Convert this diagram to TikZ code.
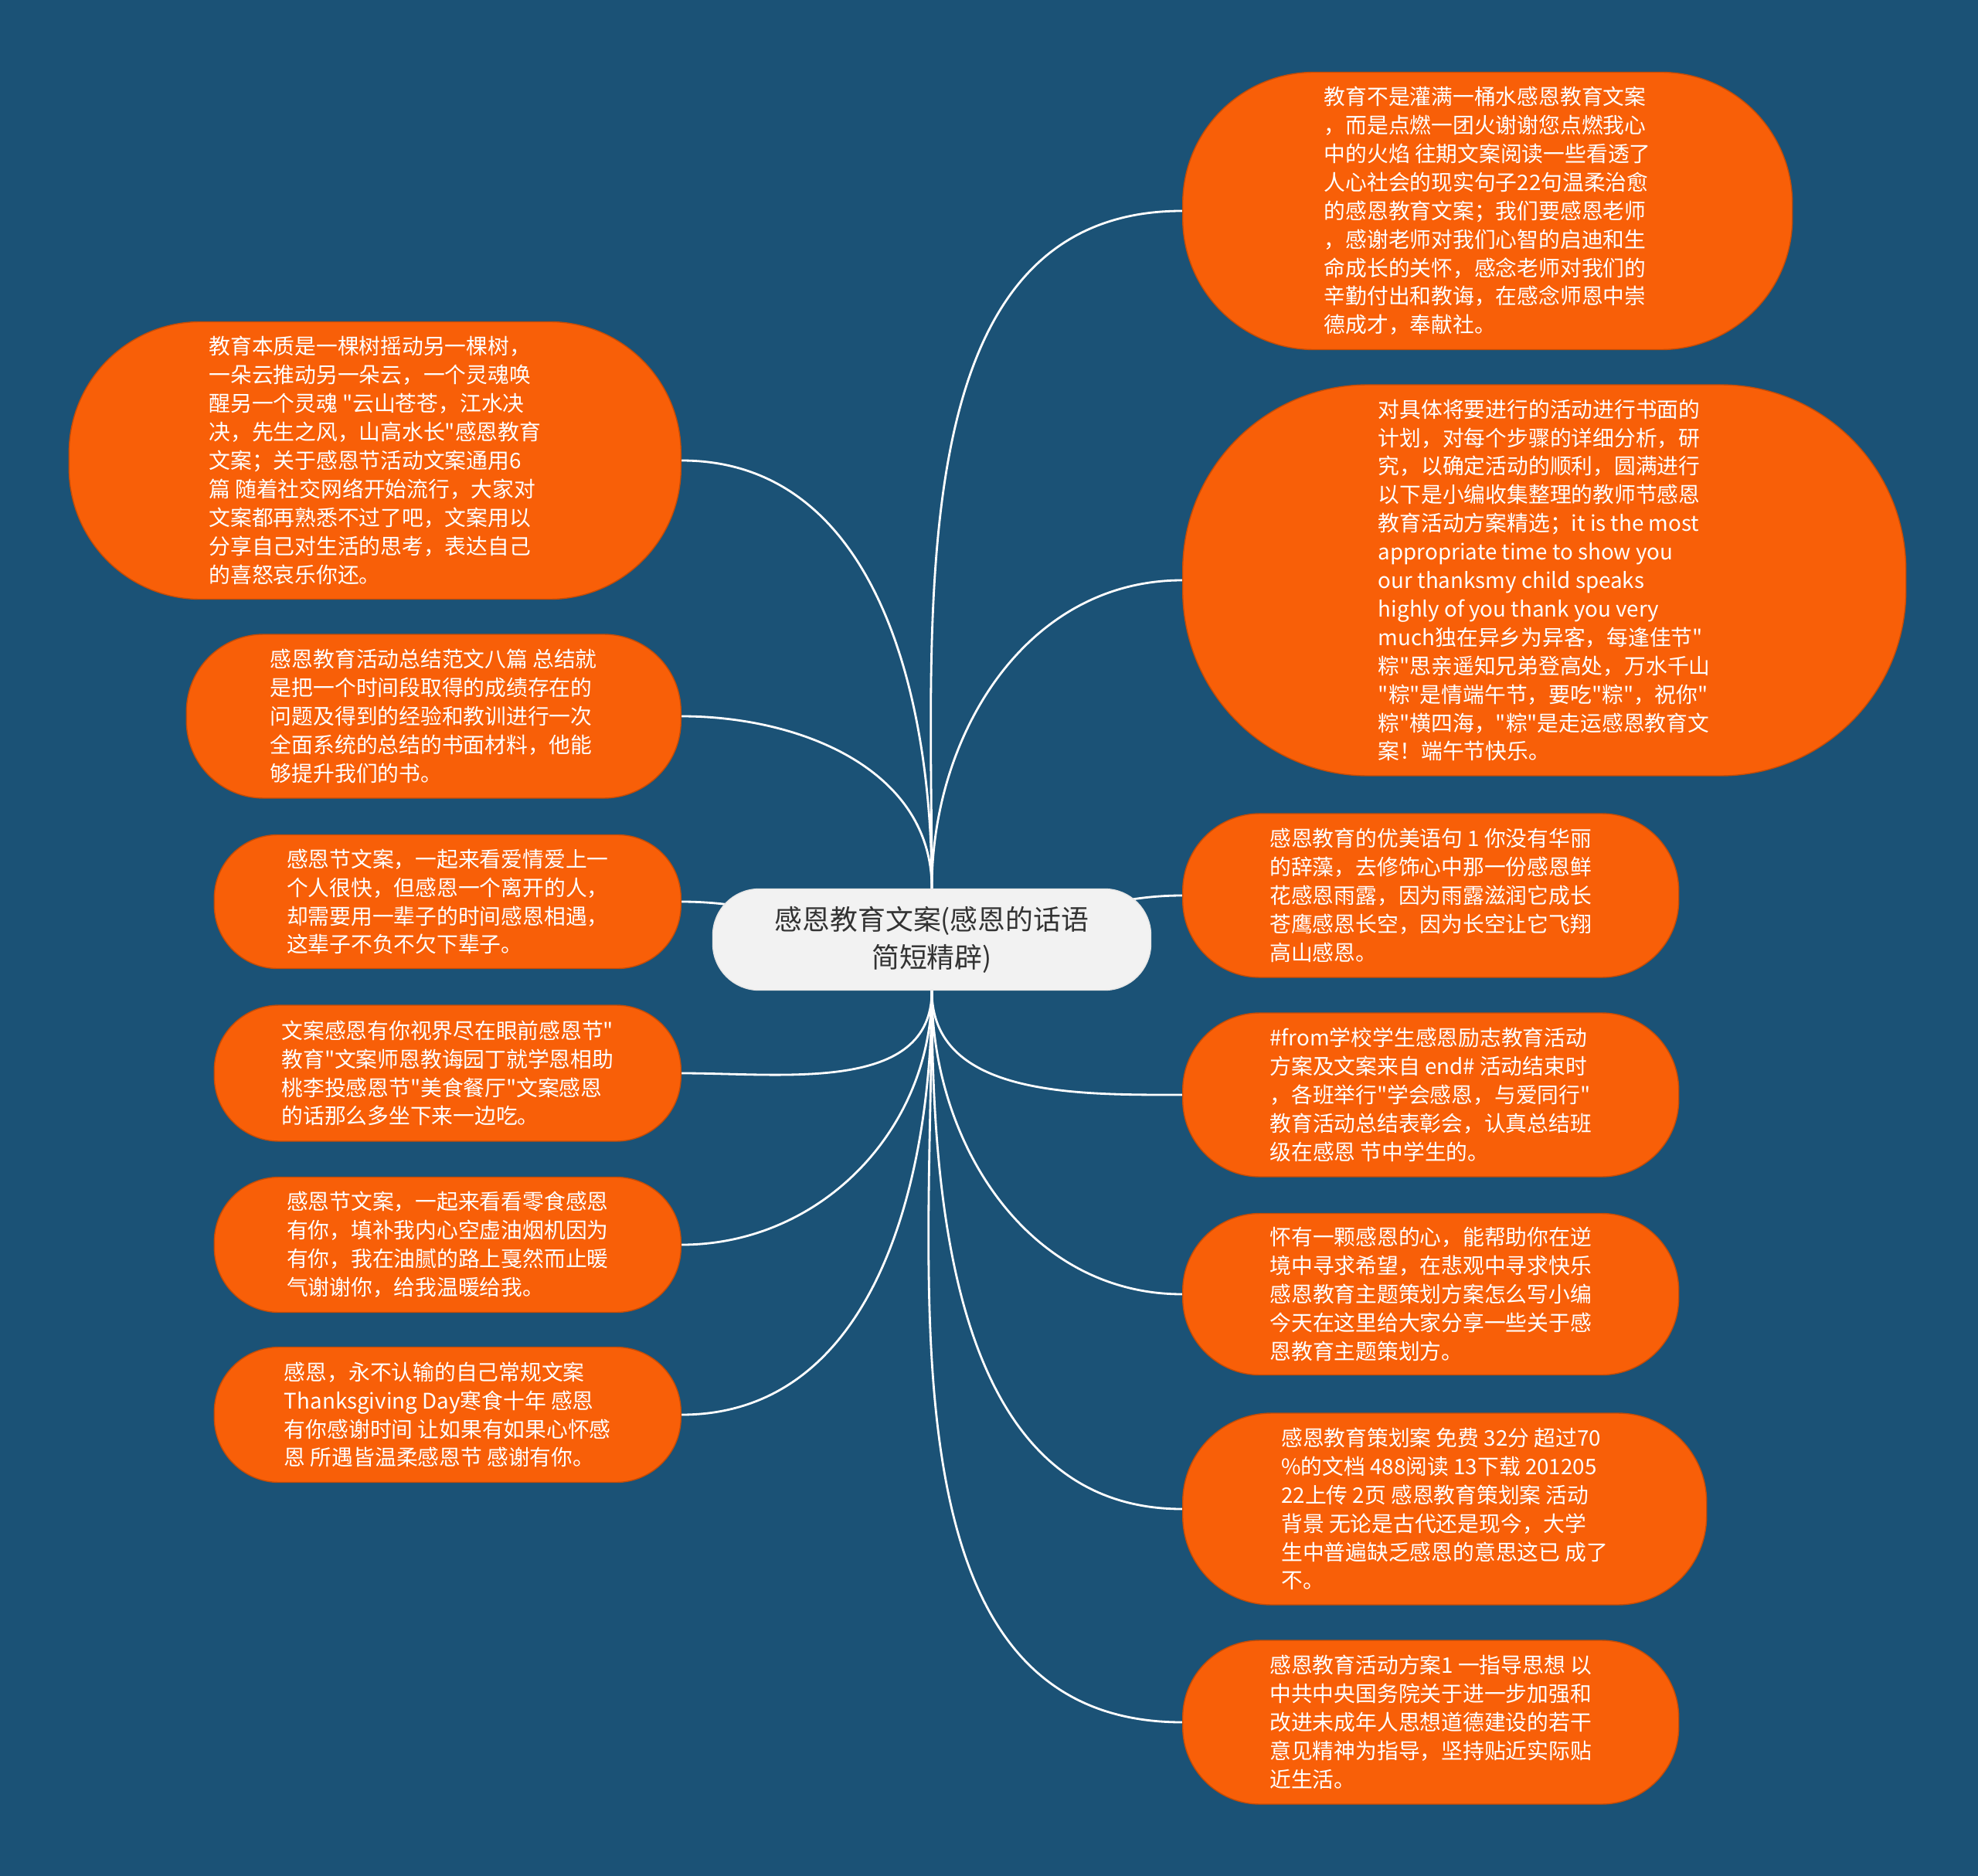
\documentclass[tikz,border=0pt]{standalone}
\usepackage{fontspec}
\setmainfont{Noto Sans CJK SC}
\newfontfamily\mapfont{Noto Sans CJK SC}
\usetikzlibrary{backgrounds}

\definecolor{mapbg}{HTML}{1B5276}
\definecolor{leaforange}{HTML}{F85F08}
\definecolor{rootgrey}{HTML}{F2F2F2}
\definecolor{roottext}{HTML}{333333}

\tikzset{
    leaf/.style={fill=leaforange, draw=leaforange!80!black, line width=0.4pt,
        text=white, align=left, inner sep=0pt,
        font=\mapfont\fontsize{7.9pt}{10.5pt}\selectfont},
    rootbox/.style={fill=rootgrey, draw=white!80!gray, line width=0.4pt,
        text=roottext, align=center, rounded corners=0.6cm,
        minimum width=5.67cm, minimum height=1.31cm,
        font=\mapfont\fontsize{10.2pt}{14pt}\selectfont},
    branch/.style={white, line width=0.8pt}
}

\begin{document}
\begin{tikzpicture}
    \useasboundingbox (0,0) rectangle (25.6,-24.28);

    % Central topic
    \node[rootbox] (root) at (12.06,-12.16) {感恩教育文案(感恩的话语\\简短精辟)};

    % Right branches
    \node[leaf, anchor=west, minimum width=7.89cm, minimum height=3.59cm, rounded corners=1.7cm] (r1) at (15.30,-2.73)
        {教育不是灌满一桶水感恩教育文案\\，而是点燃一团火谢谢您点燃我心\\中的火焰 往期文案阅读一些看透了\\人心社会的现实句子22句温柔治愈\\的感恩教育文案；我们要感恩老师\\，感谢老师对我们心智的启迪和生\\命成长的关怀，感念老师对我们的\\辛勤付出和教诲，在感念师恩中崇\\德成才，奉献社。};
    \node[leaf, anchor=west, minimum width=9.36cm, minimum height=5.06cm, rounded corners=2.4cm] (r2) at (15.30,-7.51)
        {对具体将要进行的活动进行书面的\\计划，对每个步骤的详细分析，研\\究，以确定活动的顺利，圆满进行\\以下是小编收集整理的教师节感恩\\教育活动方案精选；it is the most\\appropriate time to show you\\our thanksmy child speaks\\highly of you thank you very\\much独在异乡为异客，每逢佳节"\\粽"思亲遥知兄弟登高处，万水千山\\"粽"是情端午节，要吃"粽"，祝你"\\粽"横四海，"粽"是走运感恩教育文\\案！端午节快乐。};
    \node[leaf, anchor=west, minimum width=6.42cm, minimum height=2.12cm, rounded corners=1.0cm] (r3) at (15.30,-11.59)
        {感恩教育的优美语句 1 你没有华丽\\的辞藻，去修饰心中那一份感恩鲜\\花感恩雨露，因为雨露滋润它成长\\苍鹰感恩长空，因为长空让它飞翔\\高山感恩。};
    \node[leaf, anchor=west, minimum width=6.42cm, minimum height=2.12cm, rounded corners=1.0cm] (r4) at (15.30,-14.17)
        {\#from学校学生感恩励志教育活动\\方案及文案来自 end\# 活动结束时\\，各班举行"学会感恩，与爱同行"\\教育活动总结表彰会，认真总结班\\级在感恩 节中学生的。};
    \node[leaf, anchor=west, minimum width=6.42cm, minimum height=2.09cm, rounded corners=1.0cm] (r5) at (15.30,-16.75)
        {怀有一颗感恩的心，能帮助你在逆\\境中寻求希望，在悲观中寻求快乐\\感恩教育主题策划方案怎么写小编\\今天在这里给大家分享一些关于感\\恩教育主题策划方。};
    \node[leaf, anchor=west, minimum width=6.78cm, minimum height=2.48cm, rounded corners=1.15cm] (r6) at (15.30,-19.53)
        {感恩教育策划案 免费 32分 超过70\\\%的文档 488阅读 13下载 201205\\22上传 2页 感恩教育策划案 活动\\背景 无论是古代还是现今，大学\\生中普遍缺乏感恩的意思这已 成了\\不。};
    \node[leaf, anchor=west, minimum width=6.42cm, minimum height=2.12cm, rounded corners=1.0cm] (r7) at (15.30,-22.29)
        {感恩教育活动方案1 一指导思想 以\\中共中央国务院关于进一步加强和\\改进未成年人思想道德建设的若干\\意见精神为指导，坚持贴近实际贴\\近生活。};

    % Left branches
    \node[leaf, anchor=east, minimum width=7.92cm, minimum height=3.59cm, rounded corners=1.7cm] (l1) at (8.82,-5.96)
        {教育本质是一棵树摇动另一棵树，\\一朵云推动另一朵云，一个灵魂唤\\醒另一个灵魂 "云山苍苍，江水决\\决，先生之风，山高水长"感恩教育\\文案；关于感恩节活动文案通用6\\篇 随着社交网络开始流行，大家对\\文案都再熟悉不过了吧，文案用以\\分享自己对生活的思考，表达自己\\的喜怒哀乐你还。};
    \node[leaf, anchor=east, minimum width=6.40cm, minimum height=2.12cm, rounded corners=1.0cm] (l2) at (8.82,-9.27)
        {感恩教育活动总结范文八篇 总结就\\是把一个时间段取得的成绩存在的\\问题及得到的经验和教训进行一次\\全面系统的总结的书面材料，他能\\够提升我们的书。};
    \node[leaf, anchor=east, minimum width=6.04cm, minimum height=1.73cm, rounded corners=0.82cm] (l3) at (8.82,-11.67)
        {感恩节文案，一起来看爱情爱上一\\个人很快，但感恩一个离开的人，\\却需要用一辈子的时间感恩相遇，\\这辈子不负不欠下辈子。};
    \node[leaf, anchor=east, minimum width=6.04cm, minimum height=1.76cm, rounded corners=0.84cm] (l4) at (8.82,-13.89)
        {文案感恩有你视界尽在眼前感恩节"\\教育"文案师恩教诲园丁就学恩相助\\桃李投感恩节"美食餐厅"文案感恩\\的话那么多坐下来一边吃。};
    \node[leaf, anchor=east, minimum width=6.04cm, minimum height=1.75cm, rounded corners=0.84cm] (l5) at (8.82,-16.11)
        {感恩节文案，一起来看看零食感恩\\有你，填补我内心空虚油烟机因为\\有你，我在油腻的路上戛然而止暖\\气谢谢你，给我温暖给我。};
    \node[leaf, anchor=east, minimum width=6.04cm, minimum height=1.75cm, rounded corners=0.84cm] (l6) at (8.82,-18.31)
        {感恩，永不认输的自己常规文案\\Thanksgiving Day寒食十年 感恩\\有你感谢时间 让如果有如果心怀感\\恩 所遇皆温柔感恩节 感谢有你。};

    \begin{scope}[on background layer]
        % Backdrop
        \fill[mapbg] (0,0) rectangle (25.6,-24.28);

        % Connectors
        \draw[branch] (root.north) to[out=90,in=180] (r1.west);
        \draw[branch] (root.north) to[out=90,in=180] (r2.west);
        \draw[branch] (root.center) to[out=0,in=180] (r3.west);
        \draw[branch] (root.south) to[out=-90,in=180] (r4.west);
        \draw[branch] (root.south) to[out=-90,in=180] (r5.west);
        \draw[branch] (root.south) to[out=-90,in=180] (r6.west);
        \draw[branch] (root.south) to[out=-90,in=180] (r7.west);
        \draw[branch] (root.north) to[out=90,in=0] (l1.east);
        \draw[branch] (root.north) to[out=90,in=0] (l2.east);
        \draw[branch] (root.center) to[out=180,in=0] (l3.east);
        \draw[branch] (root.south) to[out=-90,in=0] (l4.east);
        \draw[branch] (root.south) to[out=-90,in=0] (l5.east);
        \draw[branch] (root.south) to[out=-90,in=0] (l6.east);
    \end{scope}
\end{tikzpicture}
\end{document}
